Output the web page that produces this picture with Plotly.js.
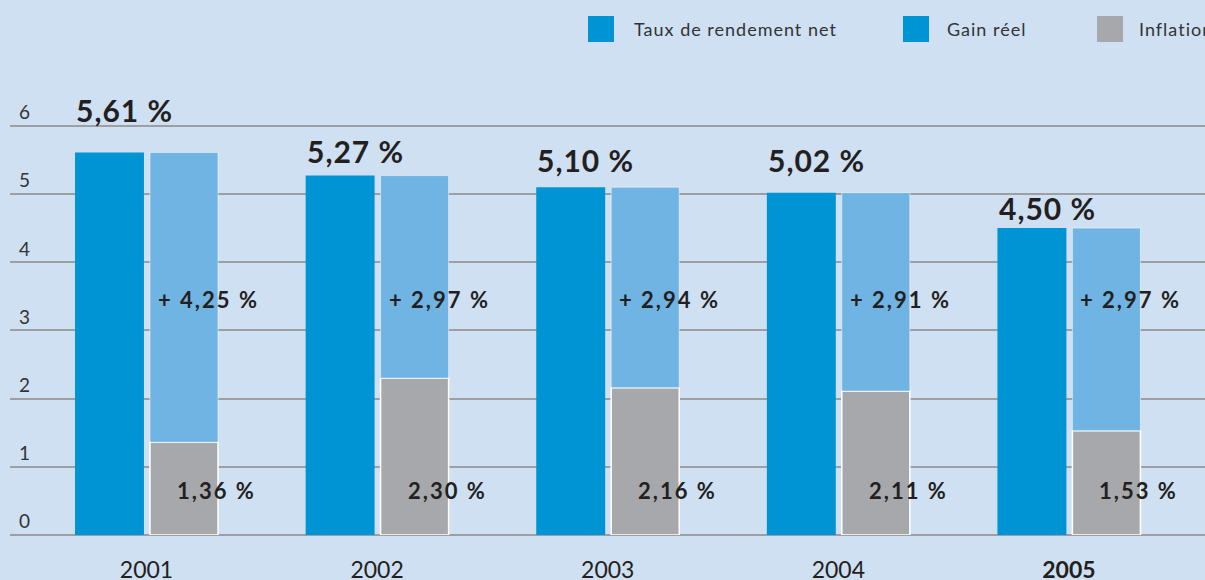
<!DOCTYPE html>
<html>
<head>
<meta charset="utf-8">
<script src="https://cdn.plot.ly/plotly-3.0.1.min.js"></script>
<style>
  html, body { margin: 0; padding: 0; background: #cfe0f3; }
  #chart { width: 1205px; height: 580px; }
</style>
</head>
<body>
<div id="chart"></div>
<script>
// ---- Data ----
const years = ['2001', '2002', '2003', '2004', '2005'];
const tauxNet = [5.61, 5.27, 5.10, 5.02, 4.50];
const gainReel = [4.25, 2.97, 2.94, 2.91, 2.97];
const inflation = [1.36, 2.30, 2.16, 2.11, 1.53];
const seriesNames = ['Taux de rendement net', 'Gain réel', 'Inflation'];
const yTicks = [0, 1, 2, 3, 4, 5, 6];

// ---- Styles ----
const cBlue = '#0094d4';
const cLight = '#70b4e3';
const cGray = '#a7a8ab';
const cBg = '#cfe0f3';
const cText = '#231f20';
const fontFam = 'Lato, "Open Sans", sans-serif';
const totalLift = [42, 25, 27, 33, 20]; // pixel lift of the total labels

const idx = years.map((_, i) => i);
const fmt = v => v.toFixed(2).replace('.', ',') + ' %';
const spaced = (t, ls) => '<span style="letter-spacing:' + ls + 'px">' + t + '</span>';

const traces = [
  {
    type: 'bar', name: seriesNames[0], x: idx, y: tauxNet,
    offset: -0.31, width: 0.299,
    marker: { color: cBlue, line: { width: 0 } },
    hoverinfo: 'skip'
  },
  {
    type: 'bar', name: seriesNames[2], x: idx, y: inflation,
    offset: 0.015, width: 0.295,
    marker: { color: cGray, line: { color: '#ffffff', width: 1.5 } },
    hoverinfo: 'skip'
  },
  {
    type: 'bar', name: seriesNames[1], x: idx, y: gainReel, base: inflation,
    offset: 0.015, width: 0.295,
    marker: { color: cLight, line: { color: 'rgba(255,255,255,0.5)', width: 1 } },
    hoverinfo: 'skip'
  }
];

const annotations = [];
idx.forEach(i => {
  annotations.push({
    x: i - 0.095, y: tauxNet[i], xref: 'x', yref: 'y',
    text: spaced('<b>' + fmt(tauxNet[i]) + '</b>', 1), showarrow: false,
    yanchor: 'middle', xanchor: 'center', yshift: totalLift[i],
    font: { family: fontFam, size: 30, color: cText }
  });
  annotations.push({
    x: i + 0.015, y: 3.45, xref: 'x', yref: 'y',
    text: spaced('<b>+ ' + fmt(gainReel[i]) + '</b>', 2), showarrow: false,
    xanchor: 'left', yanchor: 'middle', xshift: 6,
    font: { family: fontFam, size: 22, color: cText }
  });
  annotations.push({
    x: i + 0.015, y: 0.65, xref: 'x', yref: 'y',
    text: spaced('<b>' + fmt(inflation[i]) + '</b>', 2), showarrow: false,
    xanchor: 'left', yanchor: 'middle', xshift: 25,
    font: { family: fontFam, size: 22, color: cText }
  });
});

// Custom legend (large square swatches)
const legendItems = [
  { name: seriesNames[0], color: cBlue, x0: 588, tx: 632 },
  { name: seriesNames[1], color: cBlue, x0: 903, tx: 945 },
  { name: seriesNames[2], color: cGray, x0: 1097, tx: 1137 }
];
const shapes = [];
legendItems.forEach(it => {
  shapes.push({
    type: 'rect', xref: 'paper', yref: 'paper',
    x0: (it.x0 - 10) / 1195, x1: (it.x0 + 26 - 10) / 1195,
    y0: (535 - 42) / 475, y1: (535 - 16) / 475,
    fillcolor: it.color, line: { width: 0 }, layer: 'above'
  });
  annotations.push({
    xref: 'paper', yref: 'paper',
    x: (it.tx - 10) / 1195, y: (535 - 29) / 475,
    xanchor: 'left', yanchor: 'middle', showarrow: false,
    text: spaced(it.name, 1), font: { family: fontFam, size: 18, color: '#333333' }
  });
});

const layout = {
  width: 1205, height: 580,
  margin: { l: 10, r: 0, t: 60, b: 45 },
  paper_bgcolor: cBg, plot_bgcolor: cBg,
  barmode: 'overlay',
  showlegend: false,
  font: { family: fontFam, color: cText },
  xaxis: {
    range: [-0.592, 4.59],
    tickvals: idx,
    ticktext: years.map((y, i) => i === years.length - 1 ? '<b>' + y + '</b>' : y),
    showgrid: false, zeroline: false, showline: false,
    ticks: '', ticklabelstandoff: 19,
    tickfont: { family: fontFam, size: 23, color: cText },
    fixedrange: true
  },
  yaxis: {
    range: [0, 6.965],
    tickvals: yTicks,
    ticktext: yTicks.map(String),
    showgrid: true, gridcolor: '#9d9fa2', gridwidth: 2,
    zeroline: true, zerolinecolor: '#9d9fa2', zerolinewidth: 2,
    showline: false, ticks: '',
    ticklabelposition: 'inside top', ticklabelstandoff: 6,
    tickfont: { family: fontFam, size: 19, color: '#333333' },
    fixedrange: true
  },
  shapes: shapes,
  annotations: annotations
};

Plotly.newPlot('chart', traces, layout, { displayModeBar: false, staticPlot: true });
</script>
</body>
</html>
